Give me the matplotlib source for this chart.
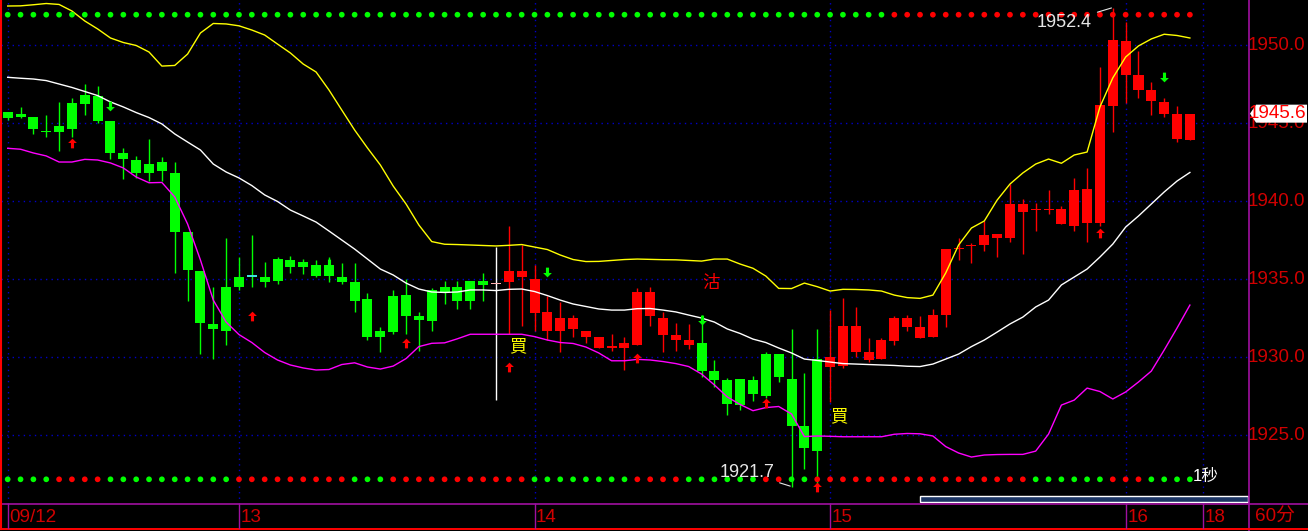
import matplotlib
matplotlib.use("Agg")
import matplotlib.pyplot as plt
import matplotlib.transforms as mtransforms
import numpy as np
from matplotlib.lines import Line2D
from matplotlib.patches import Polygon, Rectangle
from matplotlib.path import Path

# hourly candles, 09/12 .. 16
opens = [1945.7, 1945.6, 1945.4, 1944.5, 1944.8, 1946.3, 1946.8, 1946.7, 1945.1, 1943.1,
         1942.6, 1942.4, 1942.5, 1941.8, 1938.0, 1935.5, 1932.1, 1934.5, 1935.1, 1935.15,
         1935.1, 1936.3, 1936.2, 1936.1, 1935.9, 1935.9, 1935.1, 1934.8, 1933.7, 1931.7,
         1933.9, 1934.0, 1932.6, 1934.3, 1934.5, 1934.5, 1934.9, 1934.9, 1934.65, 1934.8,
         1935.15, 1932.8, 1931.7, 1931.7, 1931.8, 1931.3, 1930.6, 1930.55, 1930.6, 1930.8,
         1932.6, 1931.4, 1931.1, 1930.8, 1930.9, 1929.1, 1928.5, 1928.6, 1928.5, 1930.2,
         1930.2, 1928.6, 1925.6, 1929.9, 1929.35, 1929.4, 1930.3, 1929.8, 1929.9, 1931.0,
         1931.9, 1931.2, 1931.3, 1932.7, 1936.9, 1937.1, 1937.2, 1937.65, 1937.65, 1939.3,
         1939.4, 1939.4, 1938.55, 1938.4, 1938.6, 1938.6, 1946.1, 1948.1, 1947.1, 1946.4,
         1945.6, 1944.0, 1943.9]
highs = [1945.7, 1946.0, 1945.4, 1945.5, 1946.35, 1946.6, 1947.5, 1947.4, 1945.1, 1943.4,
         1942.9, 1944.0, 1942.8, 1942.5, 1938.0, 1935.5, 1934.5, 1937.6, 1936.4, 1937.8,
         1936.1, 1936.4, 1936.5, 1936.3, 1936.2, 1936.4, 1936.0, 1936.0, 1934.1, 1931.9,
         1934.3, 1935.0, 1932.9, 1934.4, 1934.9, 1934.9, 1934.9, 1935.4, 1937.07, 1938.4,
         1937.2, 1935.9, 1933.9, 1933.55, 1932.7, 1931.7, 1931.3, 1931.5, 1931.3, 1934.4,
         1934.5, 1932.9, 1932.2, 1932.1, 1932.7, 1929.8, 1928.65, 1928.6, 1928.8, 1930.3,
         1930.2, 1931.8, 1929.0, 1931.8, 1933.0, 1933.8, 1933.2, 1931.2, 1931.2, 1932.6,
         1932.7, 1932.6, 1933.1, 1936.9, 1937.6, 1937.3, 1938.7, 1937.9, 1941.1, 1940.1,
         1939.9, 1940.7, 1939.7, 1941.5, 1942.1, 1948.6, 1952.4, 1951.5, 1949.6, 1947.6,
         1946.6, 1946.1, 1945.6]
lows = [1945.2, 1945.3, 1944.3, 1944.1, 1943.2, 1944.1, 1945.5, 1945.0, 1942.7, 1941.4,
        1941.5, 1941.3, 1941.3, 1935.4, 1933.6, 1930.2, 1929.9, 1930.8, 1934.3, 1934.5,
        1934.5, 1934.7, 1935.4, 1935.3, 1935.1, 1934.8, 1934.7, 1932.9, 1931.1, 1930.3,
        1931.5, 1931.5, 1930.4, 1931.7, 1933.4, 1933.1, 1933.1, 1933.6, 1927.24, 1931.5,
        1932.0, 1931.7, 1931.1, 1930.3, 1931.3, 1930.9, 1930.6, 1930.4, 1929.2, 1930.8,
        1932.0, 1930.3, 1930.4, 1930.5, 1928.7, 1928.1, 1926.3, 1926.6, 1927.2, 1927.4,
        1928.4, 1921.7, 1922.8, 1921.8, 1927.1, 1929.3, 1930.0, 1929.7, 1929.9, 1930.8,
        1931.7, 1931.2, 1931.3, 1931.9, 1936.2, 1936.0, 1936.8, 1936.4, 1937.4, 1936.6,
        1938.1, 1939.2, 1938.5, 1938.1, 1937.4, 1938.4, 1944.4, 1946.3, 1946.6, 1945.5,
        1945.4, 1943.8, 1943.9]
closes = [1945.3, 1945.4, 1944.6, 1944.4, 1944.4, 1944.6, 1946.2, 1945.1, 1943.1, 1942.7,
          1941.8, 1941.8, 1941.9, 1938.0, 1935.6, 1932.2, 1931.8, 1931.7, 1934.5, 1935.15,
          1934.8, 1934.9, 1935.8, 1935.8, 1935.2, 1935.2, 1934.8, 1933.6, 1931.3, 1931.3,
          1931.6, 1932.6, 1932.4, 1932.3, 1934.2, 1933.6, 1933.6, 1934.6, 1934.65, 1935.5,
          1935.5, 1935.0, 1932.9, 1932.5, 1932.5, 1931.7, 1931.3, 1930.7, 1930.9, 1934.2,
          1934.2, 1932.5, 1931.4, 1931.1, 1929.1, 1928.5, 1927.0, 1926.9, 1927.6, 1927.5,
          1928.7, 1925.6, 1924.2, 1924.0, 1930.0, 1932.0, 1932.0, 1930.3, 1931.1, 1932.5,
          1932.5, 1931.9, 1932.7, 1936.9, 1937.0, 1937.1, 1937.8, 1937.9, 1939.8, 1939.8,
          1939.4, 1939.5, 1939.5, 1940.7, 1940.8, 1946.15, 1950.3, 1950.25, 1948.1, 1947.1,
          1946.35, 1945.6, 1945.6]

# band lines (yellow / white / magenta)
upper = [1952.50, 1952.51, 1952.58, 1952.66, 1952.60, 1952.18, 1951.54, 1951.03, 1950.45, 1950.16,
         1949.97, 1949.55, 1948.65, 1948.69, 1949.42, 1950.77, 1951.38, 1951.35, 1951.23, 1950.96,
         1950.64, 1950.06, 1949.49, 1948.78, 1948.27, 1947.12, 1945.83, 1944.55, 1943.40, 1942.31,
         1940.96, 1939.81, 1938.46, 1937.40, 1937.23, 1937.21, 1937.18, 1937.15, 1937.12, 1937.16,
         1937.21, 1937.05, 1936.89, 1936.54, 1936.25, 1936.12, 1936.13, 1936.19, 1936.25, 1936.28,
         1936.26, 1936.24, 1936.23, 1936.19, 1936.15, 1936.28, 1936.28, 1935.96, 1935.69, 1935.19,
         1934.40, 1934.39, 1934.74, 1934.51, 1934.23, 1934.34, 1934.33, 1934.30, 1934.23, 1933.97,
         1933.81, 1933.76, 1933.97, 1935.39, 1937.18, 1938.27, 1938.72, 1940.06, 1941.09, 1941.80,
         1942.37, 1942.69, 1942.42, 1942.95, 1943.14, 1946.03, 1947.89, 1949.23, 1949.94, 1950.39,
         1950.69, 1950.61, 1950.45]
mid = [1947.93, 1947.87, 1947.82, 1947.72, 1947.50, 1947.28, 1947.02, 1946.76, 1946.35, 1946.03,
       1945.67, 1945.35, 1944.94, 1944.30, 1943.78, 1943.27, 1942.37, 1941.86, 1941.48, 1940.99,
       1940.39, 1939.97, 1939.42, 1939.04, 1938.65, 1938.08, 1937.50, 1936.92, 1936.28, 1935.64,
       1935.26, 1934.74, 1934.36, 1934.17, 1934.14, 1934.17, 1934.30, 1934.30, 1934.26, 1934.34,
       1934.36, 1934.20, 1933.94, 1933.65, 1933.40, 1933.24, 1933.08, 1933.01, 1933.01, 1933.10,
       1933.11, 1933.01, 1932.89, 1932.69, 1932.50, 1932.24, 1931.80, 1931.51, 1931.15, 1930.93,
       1930.58, 1930.26, 1929.87, 1929.78, 1929.68, 1929.58, 1929.55, 1929.52, 1929.49, 1929.46,
       1929.41, 1929.39, 1929.55, 1929.87, 1930.19, 1930.67, 1931.09, 1931.60, 1932.12, 1932.56,
       1933.21, 1933.65, 1934.62, 1935.13, 1935.64, 1936.41, 1937.24, 1938.33, 1939.04, 1939.81,
       1940.58, 1941.28, 1941.83]
lower = [1943.38, 1943.32, 1943.08, 1942.89, 1942.50, 1942.50, 1942.67, 1942.63, 1942.44, 1942.12,
         1941.54, 1941.17, 1941.19, 1940.26, 1938.53, 1936.22, 1933.65, 1932.24, 1931.44, 1930.93,
         1930.29, 1929.81, 1929.49, 1929.30, 1929.17, 1929.20, 1929.52, 1929.63, 1929.36, 1929.23,
         1929.42, 1929.90, 1930.67, 1930.88, 1930.91, 1931.17, 1931.46, 1931.46, 1931.46, 1931.46,
         1931.46, 1931.31, 1931.09, 1930.93, 1930.87, 1930.64, 1930.26, 1929.76, 1929.76, 1929.85,
         1929.81, 1929.71, 1929.58, 1929.39, 1928.91, 1928.21, 1927.44, 1926.96, 1926.56, 1926.76,
         1926.83, 1926.35, 1924.90, 1924.94, 1924.92, 1924.89, 1924.89, 1924.89, 1924.89, 1925.05,
         1925.10, 1925.08, 1924.94, 1924.26, 1923.85, 1923.59, 1923.72, 1923.75, 1923.76, 1923.76,
         1923.97, 1925.06, 1926.92, 1927.24, 1928.01, 1927.79, 1927.31, 1927.76, 1928.40, 1929.10,
         1930.45, 1931.86, 1933.33]

# signal arrows
buy_idx = [5, 19, 31, 39, 49, 59, 63, 85]
buy_px = [1943.69, 1932.63, 1930.93, 1929.38, 1929.97, 1927.05, 1921.67, 1937.92]
sell_idx = [8, 25, 42, 54, 90]
sell_px = [1946.12, 1935.96, 1935.48, 1932.40, 1947.98]

# 買 / 沽 tags
tag_text = ["買", "買", "沽"]
tag_idx = [39.7, 64.7, 54.7]
tag_px = [1930.67, 1926.22, 1934.74]
tag_color = ["#ffff00", "#ffff00", "#ff0000"]

# dot rows, G = green, R = red
top_dots = "G" * 69 + "R" * 24
bottom_dots = ("GGGG" + "RRRR" + "GGGGGGGGGG" + "RRRRRRRRR" + "GGG" + "RRRRRRRRRRR"
               + "GGGGGGGG" + "RRRR" + "GGGGGG" + "RR" + "GG" + "RRRRRRRRRRRRRRRRR"
               + "GGGGGG" + "RRR" + "GGGG")

day_idx = [0, 18, 41, 64, 87, 93]
day_labels = ["09/12", "13", "14", "15", "16", "18"]
price_ticks = [1925, 1930, 1935, 1940, 1945, 1950]

# doji that are not drawn red
doji_dash = {19: "#40e0e0", 38: "#ffb0b0"}
doji_wick = {19: "#00ff00", 38: "#ffffff"}

RED = "#ff0000"
GREEN = "#00ff00"
GRID = "#0000c8"
PURPLE = "#a010a0"
LABEL = "#d00000"
W, H = 1308, 531
NUM_FONT = "Liberation Sans"
CJK = ["Noto Sans CJK TC", "DejaVu Sans"]

fig = plt.figure(figsize=(W / 100, H / 100), dpi=100, facecolor="black")
ax = fig.add_axes([1 / W, 27 / H, 1248 / W, 504 / H])
ax.set_facecolor("black")
ax.set_xlim(-0.52, 96.6)
ax.set_ylim(1920.58, 1952.885)
for s in ax.spines.values():
    s.set_visible(False)
ax.set_xticks([])
ax.set_yticks([])

for p in price_ticks:
    ax.axhline(p, color=GRID, lw=1.0, ls=(0, (1, 3)), zorder=0)
for d in day_idx:
    ax.axvline(d, color=GRID, lw=1.0, ls=(0, (1, 3)), zorder=0)

x = np.arange(len(opens))
o = np.array(opens)
c = np.array(closes)
body_col, wick_col = [], []
for i in x:
    if c[i] > o[i]:
        body_col.append(RED)
        wick_col.append(RED)
    elif c[i] < o[i]:
        body_col.append(GREEN)
        wick_col.append(GREEN)
    else:
        body_col.append(doji_dash.get(i, RED))
        wick_col.append(doji_wick.get(i, RED))
ax.vlines(x, lows, highs, colors=wick_col, lw=1.0, zorder=2)
bottoms = np.minimum(o, c)
heights = np.maximum(np.abs(c - o), 0.09)
ax.bar(x, heights, bottom=bottoms, width=0.78, color=body_col, lw=0, zorder=3)

ax.plot(x, upper, color="#ffff00", lw=1.0, zorder=4)
ax.plot(x, mid, color="#ffffff", lw=1.0, zorder=4)
ax.plot(x, lower, color="#ff00ff", lw=1.0, zorder=4)

up_arrow = Path([(0, 1), (-0.9, 0.1), (-0.32, 0.1), (-0.32, -1), (0.32, -1), (0.32, 0.1),
                 (0.9, 0.1), (0, 1)], closed=True)
down_arrow = Path([(0, -1), (-0.9, -0.1), (-0.32, -0.1), (-0.32, 1), (0.32, 1), (0.32, -0.1),
                   (0.9, -0.1), (0, -1)], closed=True)
ax.plot(buy_idx, buy_px, ls="none", marker=up_arrow, ms=7, color=RED, mew=0, zorder=6)
ax.plot(sell_idx, sell_px, ls="none", marker=down_arrow, ms=7, color=GREEN, mew=0, zorder=6)

for t, xi, yi, col in zip(tag_text, tag_idx, tag_px, tag_color):
    ax.text(xi, yi, t, color=col, fontsize=12.5, ha="center", va="center", family=CJK, zorder=6)

dot_tr = mtransforms.blended_transform_factory(ax.transData, ax.transAxes)
for row, yfrac in ((top_dots, 1 - 14.7 / 504), (bottom_dots, 1 - 479.3 / 504)):
    cols = [GREEN if s == "G" else RED for s in row]
    ax.scatter(x, [yfrac] * len(row), s=17, c=cols, lw=0, transform=dot_tr, zorder=5)

# high / low labels
k = int(np.argmax(highs))
ax.annotate(f"{highs[k]:.1f}", xy=(k, highs[k]), xytext=(-15, -10.5), textcoords="offset points",
            color="#e6e6e6", fontsize=13, family=NUM_FONT, ha="right", va="center",
            arrowprops=dict(arrowstyle="-", color="#e6e6e6", lw=0.8, shrinkA=2, shrinkB=1), zorder=7)
k = int(np.argmin(lows))
ax.annotate(f"{lows[k]:.1f}", xy=(k, lows[k]), xytext=(-12.5, 10), textcoords="offset points",
            color="#e6e6e6", fontsize=13, family=NUM_FONT, ha="right", va="center",
            arrowprops=dict(arrowstyle="-", color="#e6e6e6", lw=0.8, shrinkA=2, shrinkB=1), zorder=7)

ax.text(93.25, 1 - 476 / 504, "1秒", color="#ffffff", fontsize=12, ha="center", va="center",
        family=["Liberation Sans", "Noto Sans CJK SC"], transform=dot_tr, zorder=7)

# right price scale
ytr = mtransforms.blended_transform_factory(ax.transAxes, ax.transData)
for p in price_ticks:
    ax.text(0.9992, p, f"{p:.1f}", color=LABEL, fontsize=13.6, family=NUM_FONT,
            ha="left", va="center", transform=ytr, clip_on=False, zorder=8)

# last price tag
fig.canvas.draw()
yd = ax.transData.transform((0, closes[-1]))[1]
tag = Polygon([(1250, yd), (1256, yd + 9), (1307, yd + 9), (1307, yd - 9), (1256, yd - 9)],
              closed=True, facecolor="white", edgecolor="none",
              transform=mtransforms.IdentityTransform(), zorder=9)
fig.add_artist(tag)
fig.text(1249 / W, yd / H, f"{closes[-1]:.1f}", color=RED, fontsize=13.6, family=NUM_FONT,
         ha="left", va="center", zorder=10)

# frame lines
fig.add_artist(Line2D([1249 / W, 1249 / W], [0, 1], transform=fig.transFigure, color=PURPLE, lw=1.2))
fig.add_artist(Line2D([0, 1], [1 - 504 / H, 1 - 504 / H], transform=fig.transFigure, color=PURPLE, lw=1.2))
fig.add_artist(Line2D([0, 1], [1 - 528.5 / H, 1 - 528.5 / H], transform=fig.transFigure, color=RED, lw=1.4))
fig.add_artist(Line2D([1 / W, 1 / W], [1 - 528.5 / H, 1], transform=fig.transFigure, color=RED, lw=1.5))

# date scale
xtr = mtransforms.blended_transform_factory(ax.transData, fig.transFigure)
for d, lab in zip(day_idx, day_labels):
    fig.add_artist(Line2D([d, d], [1 - 528 / H, 1 - 504 / H], transform=xtr, color=PURPLE, lw=1.0))
    fig.text(d + 0.12, 1 - 517 / H, lab, color=LABEL, fontsize=13.6, family=NUM_FONT,
             ha="left", va="center", transform=xtr)
fig.text(1255 / W, 1 - 517 / H, "60分", color=LABEL, fontsize=13.6,
         family=["Liberation Sans", "Noto Sans CJK SC"], ha="left", va="center")

# scroll bar
fig.add_artist(Rectangle((920 / W, 1 - 502 / H), 328 / W, 6 / H, transform=fig.transFigure,
                         facecolor="#1c3564", edgecolor="white", lw=1.0))

fig.savefig("out.png", dpi=100, facecolor="black")
